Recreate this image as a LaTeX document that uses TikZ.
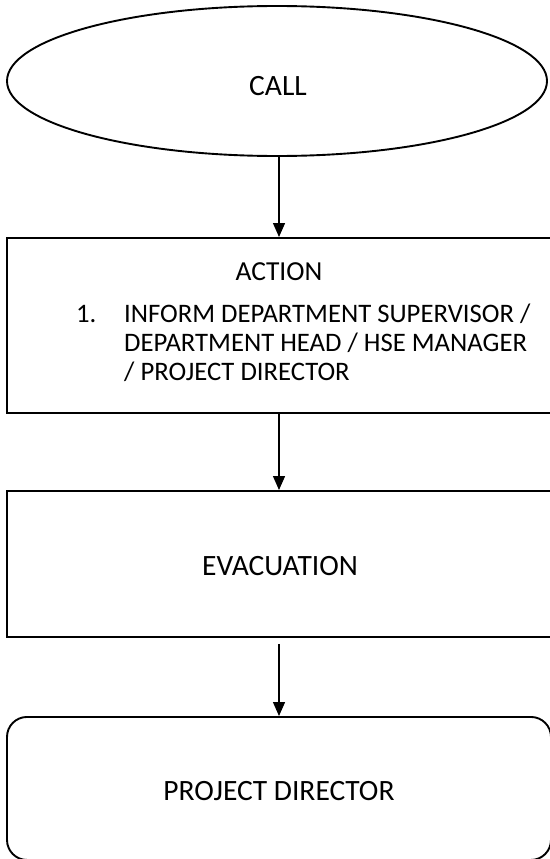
\documentclass[tikz,border=0pt]{standalone}
\usepackage{fontspec}
\setmainfont{Carlito}
\usetikzlibrary{arrows.meta,shapes.geometric}
\begin{document}
\begin{tikzpicture}[x=1pt,y=-1pt,
  shapeline/.style={draw=black,line width=1.9pt},
  flowbox/.style={shapeline,rectangle,minimum width=544pt,inner sep=0pt,anchor=north},
  flow/.style={line width=1.4pt,-{Triangle[length=14pt,width=12pt]}},
  txt/.style={font=\fontsize{29.5}{35}\selectfont,inner sep=0pt,anchor=base},
  listtxt/.style={font=\fontsize{26.7}{32}\selectfont,inner sep=0pt,anchor=base west}]
\useasboundingbox (0,0) rectangle (549,859);

% flow shapes
\node[shapeline, ellipse, minimum width=540pt, minimum height=150pt, inner sep=0pt] (call) at (277,81) {};
\node[flowbox, minimum height=175pt] (action) at (279,237) {};
\node[flowbox, minimum height=146pt] (evac) at (279,490) {};
\node[flowbox, minimum height=143pt, rounded corners=20pt] (director) at (279,716) {};

% connectors
\draw[flow] (action.north |- call.south) -- (action.north);
\draw[flow] (action.south) -- (evac.north);
\draw[flow] ([yshift=-6pt]evac.south) -- (director.north);

% labels
\node[txt] (calltxt) at (278,95.5) {CALL};
\node[txt,font=\fontsize{27.5}{33}\selectfont] (acttitle) at (279,280) {ACTION};
\node[listtxt] (num) at (76,322.5) {1.};
\node[listtxt] (item1) at (124,322.5) {INFORM DEPARTMENT SUPERVISOR /};
\node[listtxt] (item2) at (124,351.5) {DEPARTMENT HEAD / HSE MANAGER};
\node[listtxt] (item3) at (124,380.5) {/ PROJECT DIRECTOR};
\node[txt] (evactxt) at (280,575.5) {EVACUATION};
\node[txt] (dirtxt) at (279,800.5) {PROJECT DIRECTOR};
\end{tikzpicture}
\end{document}
